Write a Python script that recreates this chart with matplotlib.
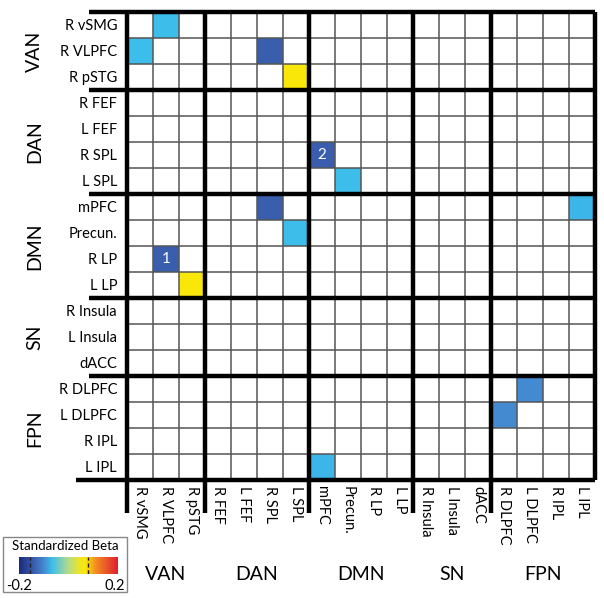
import numpy as np
import matplotlib
matplotlib.use("Agg")
import matplotlib.pyplot as plt
from matplotlib.colors import LinearSegmentedColormap, Normalize
from matplotlib.patches import Rectangle

plt.rcParams['font.family'] = ['Lato', 'DejaVu Sans']

regions = ["R vSMG", "R VLPFC", "R pSTG",
           "R FEF", "L FEF", "R SPL", "L SPL",
           "mPFC", "Precun.", "R LP", "L LP",
           "R Insula", "L Insula", "dACC",
           "R DLPFC", "L DLPFC", "R IPL", "L IPL"]
networks = ["VAN", "DAN", "DMN", "SN", "FPN"]
network_sizes = [3, 4, 4, 3, 4]

cell_rows = [0, 1, 1, 2, 5, 6, 7, 7, 8, 9, 10, 14, 15, 17]
cell_cols = [1, 0, 5, 6, 7, 8, 5, 17, 6, 1, 2, 15, 14, 7]
cell_values = [-0.066, -0.066, -0.14, 0.068, -0.14, -0.066, -0.14, -0.072,
               -0.066, -0.14, 0.068, -0.10, -0.10, -0.072]
annot_rows = [9, 5]
annot_cols = [1, 7]
annot_texts = ["1", "2"]

vmin, vmax = -0.2, 0.2
cbar_marks = [-0.156, 0.078]

cmap = LinearSegmentedColormap.from_list("beta", [
    (0.0, "#1b2a7c"), (0.15, "#3a5eae"), (0.25, "#4489d0"), (0.33, "#3bbdec"),
    (0.50, "#b5dc8a"), (0.62, "#f0e61c"), (0.67, "#fae80a"), (0.78, "#f28a22"),
    (1.0, "#e01e2e")])
norm = Normalize(vmin, vmax)

n = len(regions)
mat = np.full((n, n), np.nan)
for r, c, v in zip(cell_rows, cell_cols, cell_values):
    mat[r, c] = v

W, H = 604, 598
fig = plt.figure(figsize=(W / 100, H / 100), dpi=100)

def fx(px):
    return px / W

def fy(py):
    return 1 - py / H

left, top, cell = 127, 12, 26
ax = fig.add_axes([fx(left), fy(top + n * cell), n * cell / W, n * cell / H])
ax.pcolormesh(np.arange(n + 1), np.arange(n + 1), np.ma.masked_invalid(mat),
              cmap=cmap, norm=norm)
ax.set_xlim(0, n)
ax.set_ylim(n, 0)
ax.axis("off")

bounds = np.concatenate([[0], np.cumsum(network_sizes)])
for k in range(n + 1):
    if k in bounds:
        continue
    ax.plot([0, n], [k, k], color="#555555", lw=1.1, zorder=3)
    ax.plot([k, k], [0, n], color="#555555", lw=1.1, zorder=3)

thick = 3.2
for b in bounds:
    # horizontal group lines extend to the left
    xl = -1.95 if b == n else -1.45
    ax.plot([xl, n], [b, b], color="black", lw=thick, zorder=4,
            clip_on=False, solid_capstyle="butt")
    # vertical group lines extend downward
    yb = n if b == n else n + 1.25
    ax.plot([b, b], [0, yb], color="black", lw=thick, zorder=4,
            clip_on=False, solid_capstyle="butt")

for r, c, t in zip(annot_rows, annot_cols, annot_texts):
    ax.text(c + 0.5, r + 0.5, t, color="white", ha="center", va="center",
            fontsize=11)

for i, name in enumerate(regions):
    ax.text(-0.38, i + 0.55, name, ha="right", va="center", fontsize=10.5,
            clip_on=False)
    ax.text(i + 0.5, n + 0.25, name, ha="center", va="top", rotation=270,
            fontsize=10.5, clip_on=False)

for b0, sz, net in zip(bounds[:-1], network_sizes, networks):
    ax.text(-3.55, b0 + sz / 2, net, ha="center", va="center", rotation=90,
            fontsize=14, clip_on=False)
    ax.text(b0 + sz / 2, n + 3.65, net, ha="center", va="center",
            fontsize=14, clip_on=False)

# legend box
fig.patches.append(Rectangle((fx(3), fy(592)), (127 - 3) / W, (592 - 537) / H,
                             transform=fig.transFigure, fill=False,
                             edgecolor="#888888", lw=1.0))
fig.text(fx(65), fy(546), "Standardized Beta", ha="center", va="center",
         fontsize=9.5)
cax = fig.add_axes([fx(19), fy(574), (118 - 19) / W, (574 - 557) / H])
grad = np.linspace(vmin, vmax, 256)[None, :]
cax.imshow(grad, aspect="auto", cmap=cmap, norm=norm,
           extent=[vmin, vmax, 0, 1])
for m in cbar_marks:
    cax.plot([m, m], [0, 1], color="#222222", lw=1.0, ls=(0, (3, 2)))
cax.set_xlim(vmin, vmax)
cax.set_ylim(0, 1)
cax.axis("off")
fig.text(fx(6), fy(586), "-0.2", ha="left", va="center", fontsize=10.5)
fig.text(fx(125), fy(586), "0.2", ha="right", va="center", fontsize=10.5)

fig.savefig("out.png", dpi=100)
